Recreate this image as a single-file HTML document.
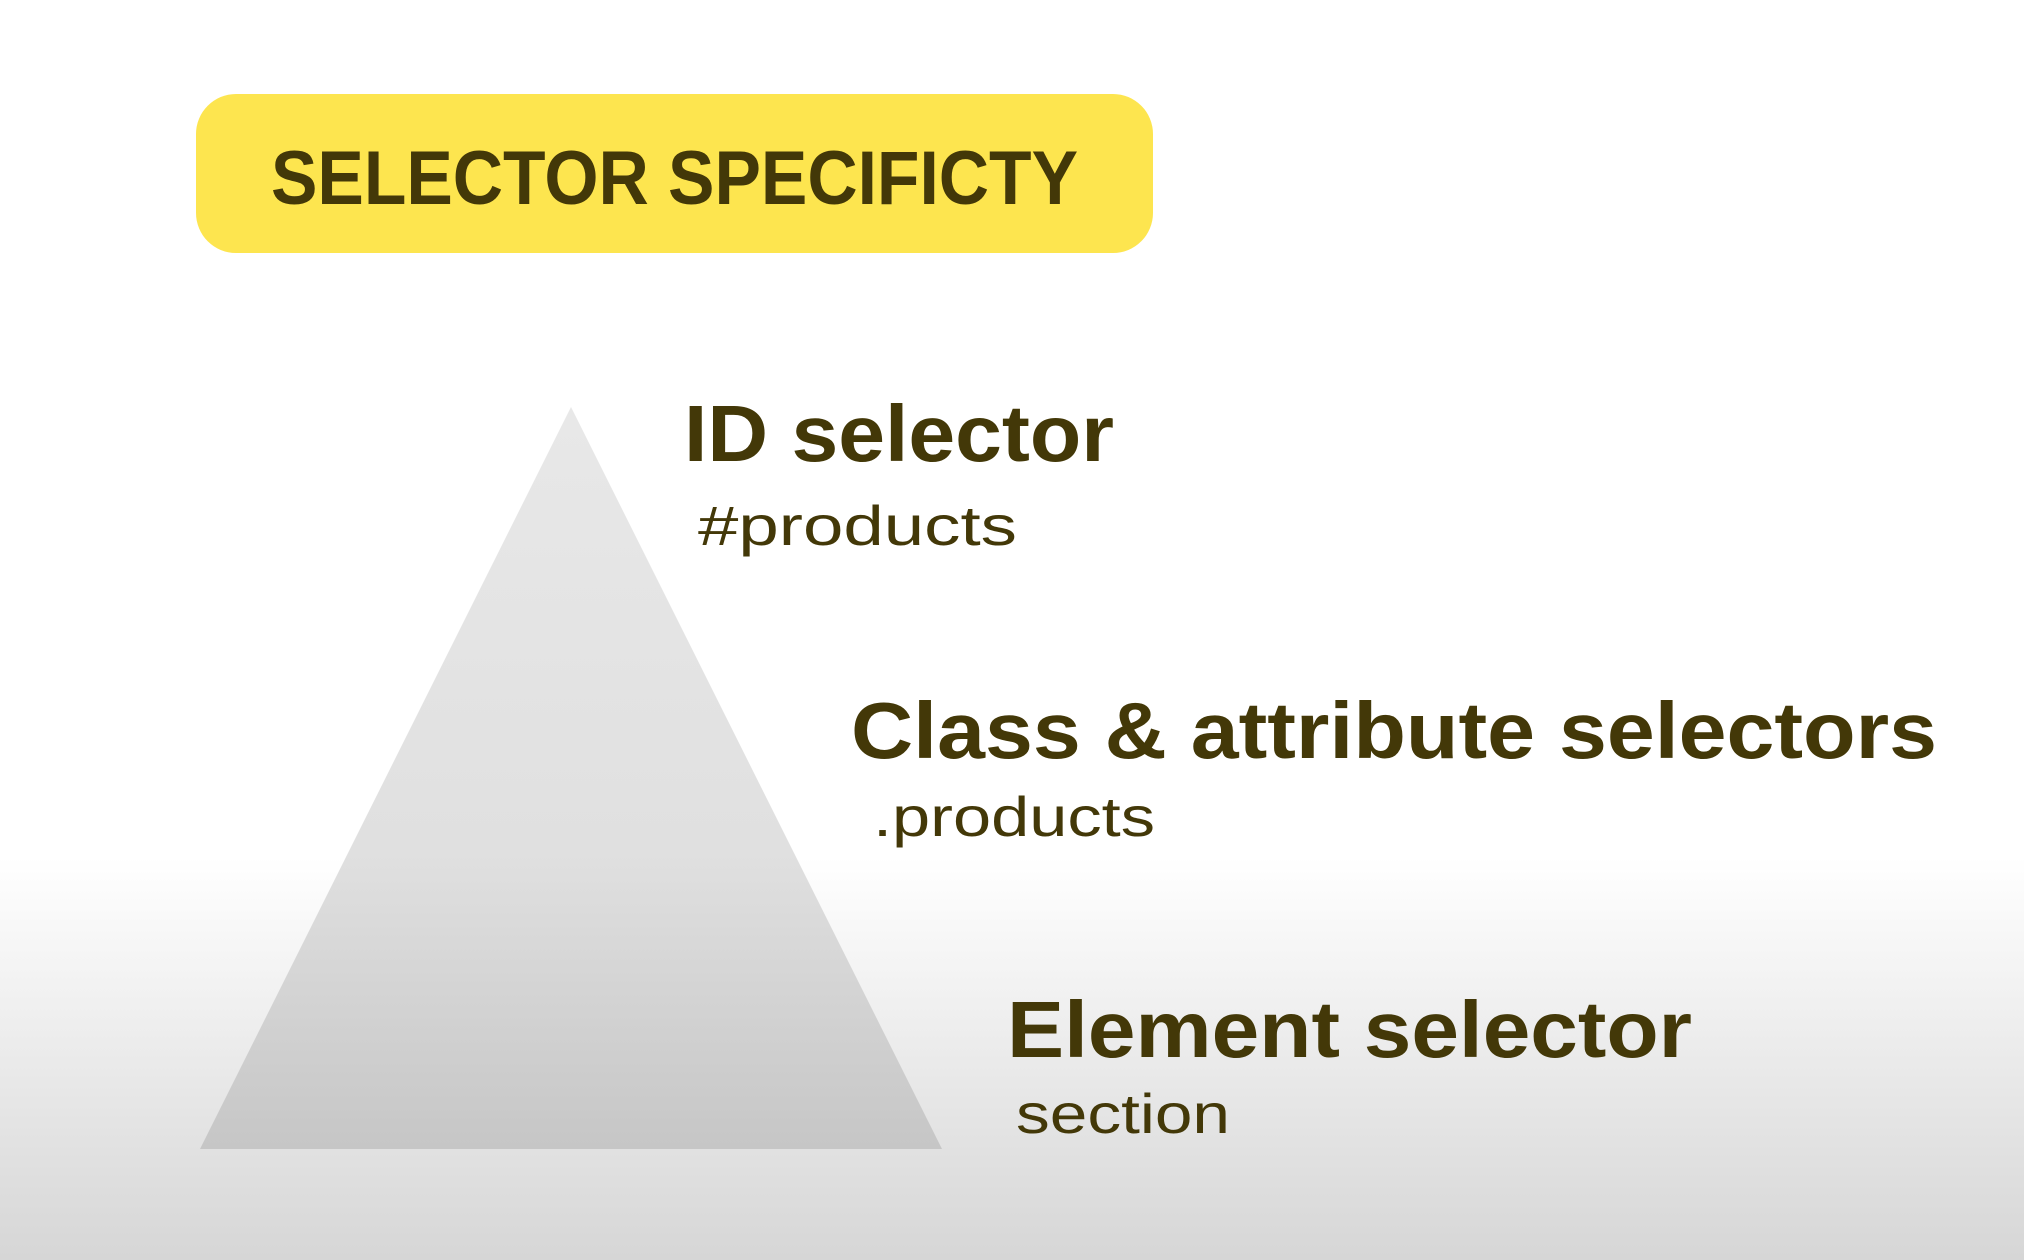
<!DOCTYPE html>
<html><head><style>
html,body{margin:0;padding:0;width:2024px;height:1260px;overflow:hidden;background:#fff}
svg{display:block}
text{font-family:"Liberation Sans",sans-serif;fill:#433808}
</style></head><body>
<svg width="2024" height="1260" viewBox="0 0 2024 1260">
<defs>
<linearGradient id="bg" x1="0" y1="0" x2="0" y2="1">
<stop offset="0" stop-color="#ffffff"/>
<stop offset="0.68" stop-color="#ffffff"/>
<stop offset="1" stop-color="#d6d6d6"/>
</linearGradient>
<linearGradient id="tri" x1="0" y1="0" x2="0" y2="1">
<stop offset="0" stop-color="#e8e8e8"/>
<stop offset="0.6" stop-color="#e0e0e0"/>
<stop offset="1" stop-color="#c6c6c6"/>
</linearGradient>
</defs>
<rect width="2024" height="1260" fill="url(#bg)"/>
<rect x="196" y="94" width="957" height="159" rx="40" fill="#fde54f"/>
<text x="271" y="204" font-size="76" font-weight="bold" textLength="807" lengthAdjust="spacingAndGlyphs">SELECTOR SPECIFICTY</text>
<polygon points="571,407 200,1149 942,1149" fill="url(#tri)"/>
<text x="684" y="461" font-size="80" font-weight="bold" textLength="430" lengthAdjust="spacingAndGlyphs">ID selector</text>
<text x="698" y="545" font-size="56" textLength="319" lengthAdjust="spacingAndGlyphs">#products</text>
<text x="851" y="758" font-size="80" font-weight="bold" textLength="1086" lengthAdjust="spacingAndGlyphs">Class &amp; attribute selectors</text>
<text x="873" y="836" font-size="56" textLength="282" lengthAdjust="spacingAndGlyphs">.products</text>
<text x="1007" y="1057" font-size="80" font-weight="bold" textLength="685" lengthAdjust="spacingAndGlyphs">Element selector</text>
<text x="1016" y="1133" font-size="56" textLength="214" lengthAdjust="spacingAndGlyphs">section</text>
</svg>
</body></html>
